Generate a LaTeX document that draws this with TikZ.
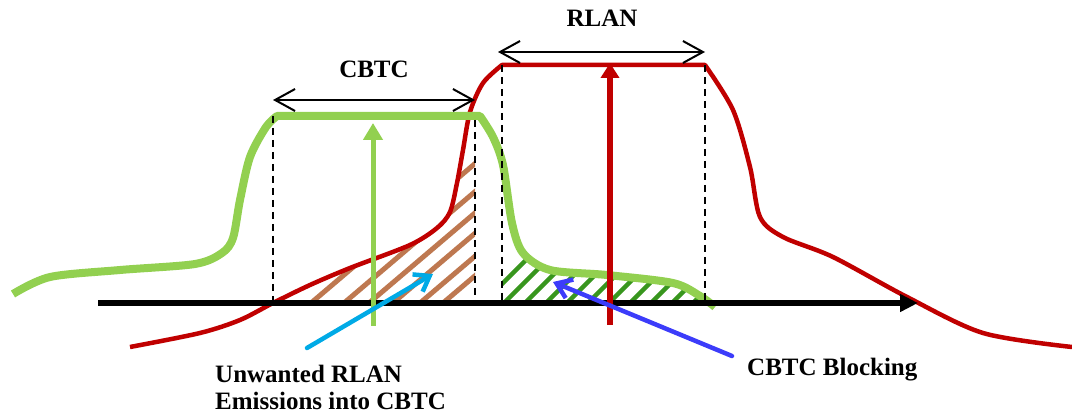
\documentclass[tikz,border=0pt]{standalone}
\usepackage{fontspec}
\setmainfont{Liberation Serif}
\usetikzlibrary{arrows.meta,positioning,calc}

\definecolor{cbtcgreen}{RGB}{146,208,80}
\definecolor{hatchgreen}{RGB}{56,150,30}
\definecolor{rlanred}{RGB}{192,0,0}
\definecolor{hatchbrown}{RGB}{190,120,80}
\definecolor{emcyan}{RGB}{0,170,230}
\definecolor{blockblue}{RGB}{60,60,250}

\tikzset{
  band/.style={black, line width=2pt, {Straight Barb[length=20pt,width=22pt]}-{Straight Barb[length=20pt,width=22pt]}},
  bandedge/.style={line width=2pt, dash pattern=on 7pt off 5pt},
  pointer/.style={line width=4.5pt, line cap=round, -{Straight Barb[length=14pt,width=20pt]}},
  txt/.style={font=\bfseries\fontsize{25}{27}\selectfont, inner sep=0pt},
}

\begin{document}
\begin{tikzpicture}[x=1pt, y=-1pt]
    \useasboundingbox (0,0) rectangle (1072,414);

    % Unwanted emissions (under the red curve)
    \begin{scope}
        \clip plot[smooth] coordinates {(273,303) (310,285) (350,268) (410,245) (437,228) (450,212) (457,183) (461,158)} -- (475,158) -- (475,303) -- cycle;
        \foreach \x in {311,344,369,393,420,443}
            \draw[hatchbrown, line width=5pt] (\x,303) -- ++(240,-204);
    \end{scope}

    % Blocking (under the green curve)
    \begin{scope}
        \clip (502,303) -- (502,256) -- plot[smooth] coordinates {(520,254) (550,269) (607,275) (673,283) (700,296)} -- (705,303) -- cycle;
        \foreach \x in {480,501,...,720}
            \draw[hatchgreen, line width=4.5pt] (\x,306) -- ++(60,-60);
    \end{scope}

    % RLAN spectrum
    \draw[rlanred, line width=4.5pt, line join=round] plot[smooth] coordinates {(130,347) (200,333) (240,320) (273,303) (310,285) (350,268) (410,245) (437,228) (450,212) (457,183) (463,150) (470,112) (483,83) (502,65)} -- (705,65) -- plot[smooth] coordinates {(705,65) (733,110) (750,167) (760,217) (783,237) (833,257) (907,297) (983,333) (1072,347)};

    % CBTC spectrum
    \draw[cbtcgreen, line width=8pt, line join=round] plot[smooth] coordinates {(13,294) (50,277) (120,270) (195,264) (222,253) (233,238) (240,200) (250,157) (266,127) (277,116)} -- (480,116) -- plot[smooth] coordinates {(480,116) (493,137) (503,165) (512,223) (523,253) (550,270) (607,275) (673,283) (700,296) (715,307)};

    % Band edges
    \draw[bandedge] (273,116) -- (273,303);
    \draw[bandedge] (475,120) -- (475,303);
    \draw[bandedge] (502,65) -- (502,303);
    \draw[bandedge] (705,65) -- (705,303);

    % Frequency axis
    \draw[line width=6pt, -{Triangle[length=18pt,width=17pt]}] (98,303) -- (918,303);

    % Bandwidths
    \draw[band] (273,100) -- (475,100);
    \draw[band] (498,52) -- (705,52);
    \node[txt, anchor=base] (cbtc) at (374,78) {CBTC};
    \node[txt, anchor=base] (rlan) at (602,27) {RLAN};

    % Carriers
    \draw[cbtcgreen, line width=5pt, -{Triangle[length=17pt,width=19pt]}] (373,326) -- (373,123);
    \draw[rlanred, line width=6pt, -{Triangle[length=15pt,width=18pt]}] (610,325) -- (610,63);

    % Callouts
    \node[txt, anchor=north west, align=left] (unwanted) at (215,365) {Unwanted RLAN\\Emissions into CBTC};
    \node[txt, anchor=base west] (blocking) at (747,375) {CBTC Blocking};
    \coordinate (emtail) at (307,348);
    \coordinate (emtip) at (433,274);
    \coordinate (bltail) at (732,356);
    \coordinate (bltip) at (553,282);
    \draw[pointer, emcyan] (emtail) -- (emtip);
    \draw[pointer, blockblue] (bltail) -- (bltip);
\end{tikzpicture}
\end{document}
